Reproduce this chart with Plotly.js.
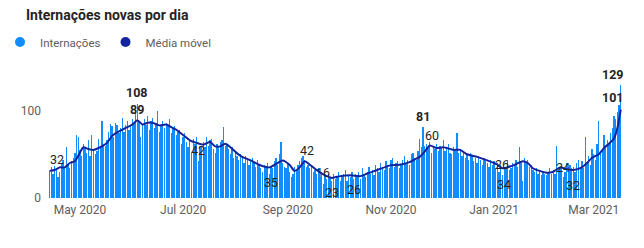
<!DOCTYPE html>
<html>
<head>
<meta charset="utf-8">
<script src="https://cdn.plot.ly/plotly-3.0.1.min.js"></script>
<style>
  html, body { margin: 0; padding: 0; background: #ffffff; }
  #chart { width: 644px; height: 248px; }
</style>
</head>
<body>
<div id="chart"></div>
<script>
// ---- Data ----
var startDate = '2020-04-13';   // first day with a bar
// daily new hospitalisations (Internações), one value per day from startDate
var dailyValues = [
  31, 35, 28, 37, 33, 24, 30,
  40, 44, 36, 58, 38, 34, 42,
  46, 52, 72, 70, 55, 48, 62,
  58, 52, 66, 48, 72, 56, 50,
  54, 68, 58, 88, 62, 60, 66,
  76, 85, 82, 70, 86, 84, 74,
  80, 92, 76, 84, 88, 78, 82,
  90, 86, 97, 108, 88, 70, 84,
  90, 84, 94, 78, 88, 92, 80,
  86, 100, 76, 82, 88, 80, 86,
  84, 90, 74, 80, 82, 72, 76,
  78, 62, 70, 74, 64, 58, 66,
  52, 68, 62, 70, 42, 60, 58,
  64, 58, 70, 60, 66, 68, 56,
  52, 62, 58, 64, 66, 81, 60,
  62, 56, 50, 58, 46, 54, 48,
  44, 50, 46, 40, 48, 44, 38,
  42, 46, 40, 36, 44, 38, 34,
  30, 38, 36, 40, 28, 35, 34,
  42, 46, 38, 50, 64, 40, 36,
  34, 40, 30, 24, 28, 36, 32,
  38, 42, 46, 48, 44, 36, 38,
  34, 36, 30, 32, 28, 34, 24,
  30, 16, 26, 22, 28, 24, 20,
  28, 22, 24, 30, 20, 26, 28,
  32, 20, 26, 24, 30, 22, 28,
  26, 30, 22, 34, 28, 24, 30,
  36, 28, 32, 26, 38, 34, 30,
  40, 36, 32, 42, 38, 34, 44,
  46, 36, 40, 42, 34, 38, 44,
  48, 40, 44, 38, 50, 52, 46,
  44, 54, 68, 58, 81, 60, 62,
  58, 64, 52, 60, 56, 62, 54,
  60, 58, 66, 54, 56, 62, 52,
  50, 58, 54, 74, 52, 56, 48,
  54, 46, 50, 44, 52, 48, 42,
  46, 40, 48, 44, 38, 46, 42,
  40, 36, 44, 38, 42, 34, 40,
  30, 38, 26, 34, 36, 44, 32,
  34, 40, 38, 44, 36, 58, 42,
  20, 46, 40, 44, 36, 38, 32,
  30, 34, 28, 32, 26, 30, 28,
  26, 30, 34, 28, 32, 28, 60,
  32, 36, 34, 24, 30, 40, 36,
  38, 34, 36, 30, 40, 44, 36,
  42, 34, 70, 40, 48, 38, 56,
  50, 44, 62, 88, 52, 56, 72,
  60, 66, 62, 74, 80, 94, 90,
  98, 106, 129
];

// moving average (Média móvel), read at these dates
var avgDates = [
  '2020-04-13','2020-04-16','2020-04-19','2020-04-22','2020-04-25','2020-04-28',
  '2020-05-01','2020-05-03','2020-05-06','2020-05-09','2020-05-13','2020-05-17',
  '2020-05-20','2020-05-23','2020-05-26','2020-05-29','2020-06-01','2020-06-04',
  '2020-06-07','2020-06-10','2020-06-13','2020-06-17','2020-06-21','2020-06-24',
  '2020-06-27','2020-07-01','2020-07-05','2020-07-09','2020-07-13','2020-07-17',
  '2020-07-20','2020-07-23','2020-07-26','2020-07-29','2020-08-02','2020-08-05',
  '2020-08-10','2020-08-15','2020-08-21','2020-08-26','2020-08-29','2020-09-02',
  '2020-09-05','2020-09-08','2020-09-11','2020-09-14','2020-09-18','2020-09-22',
  '2020-09-27','2020-10-02','2020-10-08','2020-10-14','2020-10-18','2020-10-24',
  '2020-10-31','2020-11-06','2020-11-12','2020-11-15','2020-11-18','2020-11-21',
  '2020-11-24','2020-11-28','2020-12-02','2020-12-08','2020-12-12','2020-12-16',
  '2020-12-22','2020-12-28','2021-01-03','2021-01-06','2021-01-12','2021-01-18',
  '2021-01-21','2021-01-24','2021-01-28','2021-02-01','2021-02-05','2021-02-09',
  '2021-02-13','2021-02-17','2021-02-22','2021-02-25','2021-02-28','2021-03-04',
  '2021-03-07','2021-03-10','2021-03-13','2021-03-15','2021-03-17'
];
var avgValues = [
  31, 32, 35, 35, 40, 42,
  52, 58, 56, 55, 58, 63,
  71, 75, 78, 81, 84, 89,
  84, 86, 86, 83, 84, 81,
  78, 72, 66, 63, 61, 64,
  59, 59, 62, 58, 51, 47,
  43, 38, 35, 40, 43, 38,
  31, 35, 42, 38, 32, 27,
  23, 25, 26, 25, 28, 32,
  37, 38, 41, 44, 47, 53,
  60, 57, 58, 55, 55, 50,
  47, 43, 38, 34, 37, 42,
  40, 34, 31, 29, 30, 35,
  33, 32, 35, 40, 46, 50,
  57, 62, 68, 80, 101
];

// data labels shown on the chart: date, which series, pixel offset
var labelDates  = ['2020-04-16','2020-06-04','2020-06-04','2020-07-10','2020-08-22','2020-09-11','2020-09-22','2020-09-27','2020-10-08','2020-11-20','2020-11-24','2021-01-06','2021-01-06','2021-02-11','2021-02-17','2021-03-17','2021-03-17'];
var labelSeries = ['avg','bar','avg','bar','bar','avg','bar','avg','avg','bar','avg','bar','avg','bar','avg','avg','bar'];
var labelShiftY = [11, 11, 11, 11, -15, 11, 12, -15, -14, 11, 10, 11, -16, 10, -15, 12, 11];
var labelShiftX = [2, 0, 0, 0, 0, 2, 0, 0, 4, 0, 2, 0, 2, 0, 0, -8, -8];
var labelBold   = [false, true, true, false, false, false, false, false, false, true, false, false, false, false, false, true, true];

var seriesNames = ['Internações', 'Média móvel'];
var title = 'Internações novas por dia';
var yTicks = [0, 100];

// ---- Build ----
var DAY = 86400000;
function addDays(iso, n) {
  var d = new Date(iso + 'T00:00:00Z');
  d.setUTCDate(d.getUTCDate() + n);
  return d.toISOString().slice(0, 10);
}
var dailyDates = dailyValues.map(function (_, i) { return addDays(startDate, i); });

var barColor = '#118DFF';
var lineColor = '#12239E';
var FONT = 'Segoe UI, Roboto, Lato, sans-serif';

var traces = [
  {
    type: 'bar', x: dailyDates, y: dailyValues, name: seriesNames[0],
    marker: { color: barColor, line: { width: 0 } },
    width: 0.78 * DAY, showlegend: false, hoverinfo: 'skip'
  },
  {
    type: 'scatter', mode: 'lines', x: avgDates, y: avgValues, name: seriesNames[1],
    line: { color: lineColor, width: 2, shape: 'spline', smoothing: 0.6 },
    showlegend: false, hoverinfo: 'skip'
  },
  // legend entries with round markers, as in the reference
  {
    type: 'scatter', mode: 'markers', x: [null], y: [null], name: seriesNames[0],
    marker: { color: barColor, size: 10, symbol: 'circle' }, showlegend: true
  },
  {
    type: 'scatter', mode: 'markers', x: [null], y: [null], name: seriesNames[1],
    marker: { color: lineColor, size: 10, symbol: 'circle' }, showlegend: true
  }
];

function valueAt(series, date) {
  if (series === 'bar') return dailyValues[dailyDates.indexOf(date)];
  return avgValues[avgDates.indexOf(date)];
}

var annotations = labelDates.map(function (d, k) {
  var v = valueAt(labelSeries[k], d);
  return {
    x: d, y: v, xref: 'x', yref: 'y',
    text: labelBold[k] ? '<b>' + v + '</b>' : String(v),
    showarrow: false, yshift: labelShiftY[k], xshift: labelShiftX[k],
    font: { family: FONT, size: 12.5, color: '#252423' }
  };
});

var layout = {
  width: 644, height: 248,
  margin: { l: 48, r: 19, t: 70, b: 50 },
  paper_bgcolor: '#ffffff', plot_bgcolor: '#ffffff',
  font: { family: FONT, color: '#605E5C', size: 12 },
  title: {
    text: '<b>' + title + '</b>',
    xref: 'container', yref: 'container',
    x: 26 / 644, xanchor: 'left', y: 1 - 15 / 248, yanchor: 'middle',
    font: { family: FONT, size: 14, color: '#252423' }
  },
  showlegend: true,
  legend: {
    orientation: 'h', xref: 'container', yref: 'container',
    x: -10 / 644, xanchor: 'left', y: 1 - 42 / 248, yanchor: 'middle',
    font: { family: FONT, size: 11.5, color: '#605E5C' }, itemwidth: 30,
    bgcolor: 'rgba(0,0,0,0)', borderwidth: 0
  },
  bargap: 0,
  xaxis: {
    type: 'date',
    range: ['2020-04-12 02:00', '2021-03-19 12:00'],
    tick0: '2020-05-01', dtick: 'M2', tickformat: '%b %Y',
    showgrid: false, zeroline: false, showline: false, ticks: '',
    tickfont: { family: FONT, size: 12, color: '#605E5C' }, ticklabelstandoff: 3, fixedrange: true
  },
  yaxis: {
    range: [0, 146.3], tickvals: yTicks,
    showgrid: false, zeroline: false, showline: false, ticks: '',
    tickfont: { family: FONT, size: 12, color: '#605E5C' }, ticklabelstandoff: 6, fixedrange: true
  },
  annotations: annotations
};

Plotly.newPlot('chart', traces, layout, { staticPlot: true, displayModeBar: false });
</script>
</body>
</html>
